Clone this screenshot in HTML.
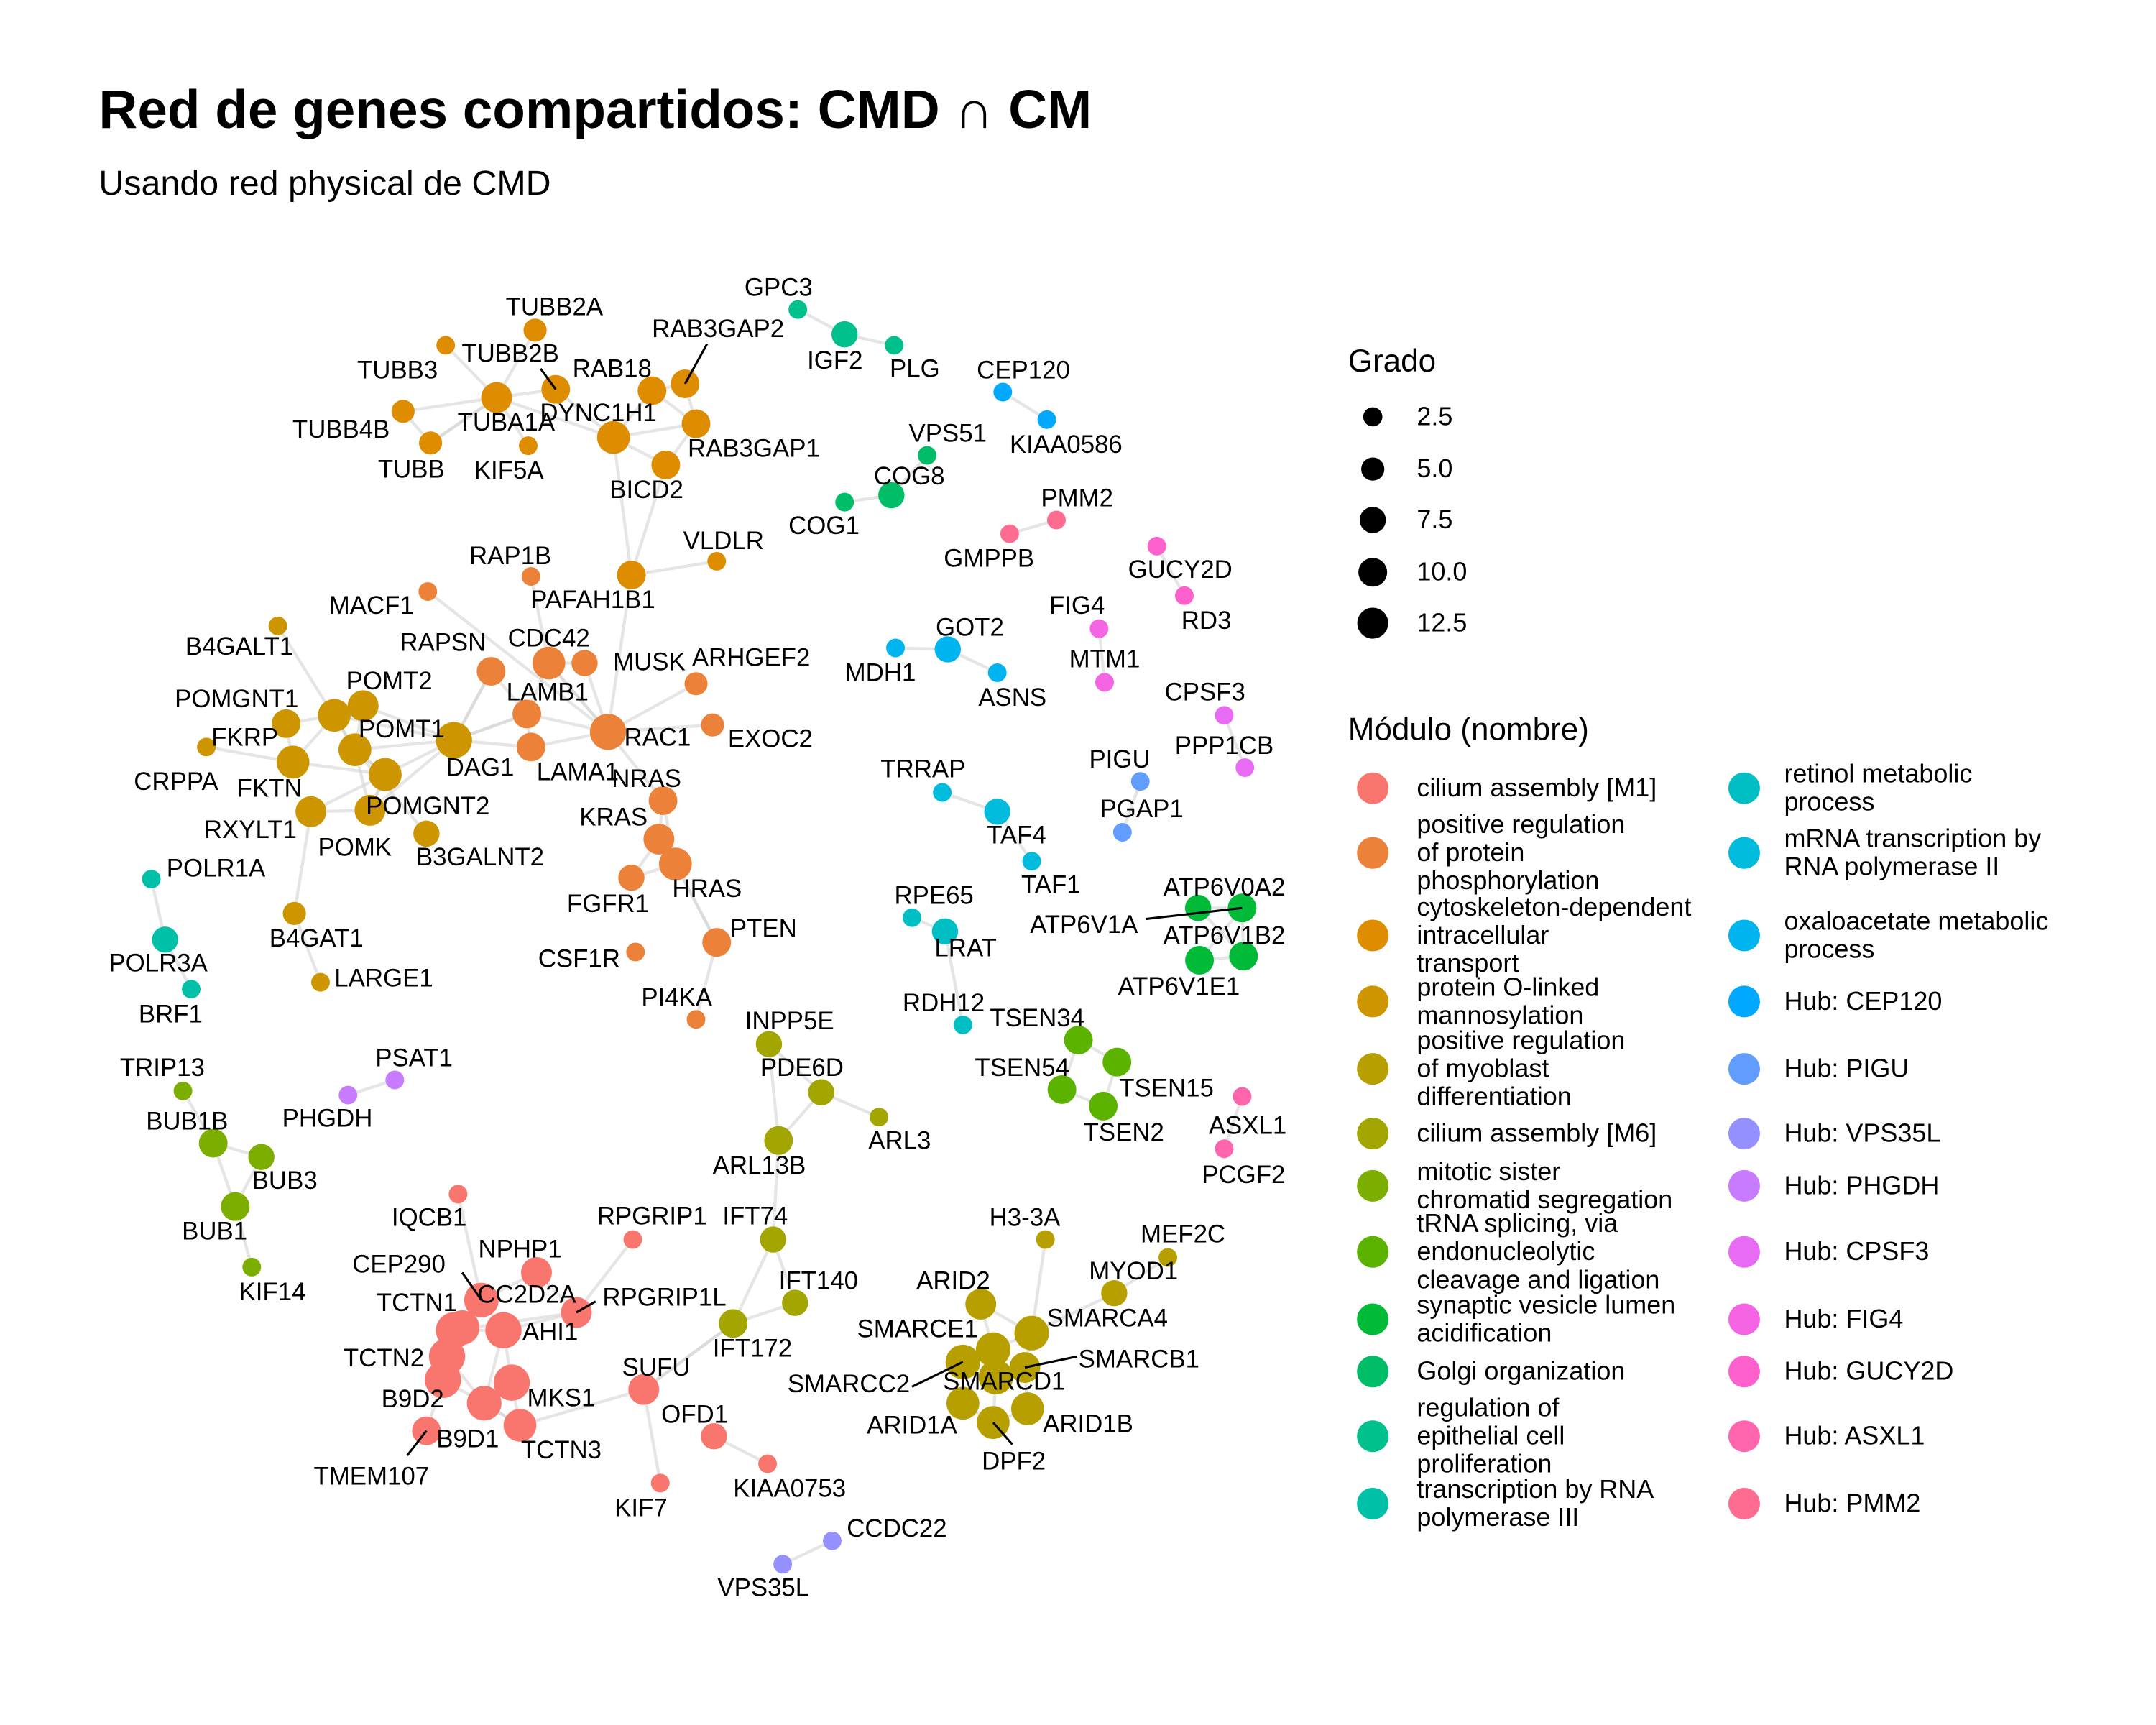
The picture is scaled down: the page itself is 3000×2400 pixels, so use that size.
<!DOCTYPE html>
<html><head><meta charset="utf-8"><style>
html,body{margin:0;padding:0;background:#fff}
svg{display:block;font-family:"Liberation Sans",Arial,sans-serif}
</style></head><body>
<svg id="chart" width="3000" height="2400" viewBox="0 0 1550 1240" xmlns="http://www.w3.org/2000/svg">
<rect width="1550" height="1240" fill="#fff"/>
<text x="71" y="92" font-size="38.6" font-weight="bold" fill="#000">Red de genes compartidos: CMD ∩ CM</text>
<text x="71" y="140" font-size="25" fill="#000">Usando red physical de CMD</text>
<g id="edges"></g>
<g id="nodes"></g>
<g id="labels"></g>
<g id="legend" transform="scale(0.9889)"></g>
</svg>
<script>
const NS="http://www.w3.org/2000/svg";
const moduleNames=["cilium assembly [M1]","positive regulation|of protein|phosphorylation","cytoskeleton-dependent|intracellular|transport","protein O-linked|mannosylation","positive regulation|of myoblast|differentiation","cilium assembly [M6]","mitotic sister|chromatid segregation","tRNA splicing, via|endonucleolytic|cleavage and ligation","synaptic vesicle lumen|acidification","Golgi organization","regulation of|epithelial cell|proliferation","transcription by RNA|polymerase III","retinol metabolic|process","mRNA transcription by|RNA polymerase II","oxaloacetate metabolic|process","Hub: CEP120","Hub: PIGU","Hub: VPS35L","Hub: PHGDH","Hub: CPSF3","Hub: FIG4","Hub: GUCY2D","Hub: ASXL1","Hub: PMM2"];
const moduleColors=["#F8766D","#EC8239","#DE8C00","#CD9600","#B79F00","#A3A500","#7CAE00","#5BB300","#00BA38","#00BE67","#00C08B","#00C1A7","#00BFC4","#00BBDB","#00B4EF","#00A9FF","#619CFF","#9590FF","#C77CFF","#E76BF3","#F564E3","#FF61CC","#FF65AC","#FF6C91"];
const sizeLegend=[2.5,5.0,7.5,10.0,12.5];
const nodeNames=["TUBB2A","TUBB3","TUBB2B","TUBA1A","TUBB4B","TUBB","KIF5A","RAB18","RAB3GAP2","DYNC1H1","RAB3GAP1","BICD2","VLDLR","PAFAH1B1",
"RAP1B","MACF1","CDC42","MUSK","RAPSN","LAMB1","RAC1","ARHGEF2","EXOC2","LAMA1","NRAS","KRAS","HRAS","FGFR1","CSF1R","PTEN","PI4KA",
"B4GALT1","POMGNT1","POMT2","POMT2b","FKRP","CRPPA","POMT1","DAG1","FKTN","RXYLT1","POMK","POMGNT2","B3GALNT2","B4GAT1","LARGE1",
"POLR1A","POLR3A","BRF1","TRIP13","BUB1B","BUB3","BUB1","KIF14","PSAT1","PHGDH",
"IQCB1","NPHP1","RPGRIP1","CC2D2A","CEP290","TCTN1","RPGRIP1L","AHI1","TCTN2","B9D2","MKS1","B9D1","SUFU","TCTN3","TMEM107","OFD1","KIAA0753","KIF7","CCDC22","VPS35L",
"INPP5E","PDE6D","ARL3","ARL13B","IFT74","IFT140","IFT172",
"H3-3A","MEF2C","MYOD1","ARID2","SMARCA4","SMARCE1","SMARCC2","SMARCD1","SMARCB1","ARID1A","ARID1B","DPF2",
"GPC3","IGF2","PLG","VPS51","COG8","COG1","CEP120","KIAA0586","PMM2","GMPPB","GUCY2D","RD3","FIG4","MTM1","GOT2","MDH1","ASNS","CPSF3","PPP1CB","PIGU","PGAP1","TRRAP","TAF4","TAF1","RPE65","LRAT","RDH12",
"ATP6V0A2","ATP6V1A","ATP6V1B2","ATP6V1E1","TSEN34","TSEN54","TSEN15","TSEN2","ASXL1","PCGF2"];
const nodeX=[389,324,404,361,293,313,384,474,498,446,506,484,521,459, 386,311,399,425,357,383,442,506,518,386,482,479,491,459,462,521,506, 202,208,243,264,213,150,258,330,280,226,269,280,310,214,233, 110,120,139,133,155,190,171,183,287,253, 333,390,460,350,336,330,419,366,325,322,372,352,468,378,310,519,558,480,605,569, 559,597,639,566,562,578,533, 760,849,810,713,750,722,700,724,745,700,747,722, 580,614,650,674,648,614,729,761,768,734,841,861,799,803,689,651,725,890,905,829,816,685,725,750,663,687,700, 871,903,904,872,784,772,812,802,903,890];
const nodeY=[240,251,283,289,299,322,324,284,279,318,308,338,408,418, 419,430,482,482,488,519,532,497,527,543,582,610,628,638,692,685,741, 455,526,520,513,554,543,545,538,563,590,589,563,606,664,714, 639,683,719,793,831,841,877,921,785,796, 868,925,901,945,965,967,954,967,986,1003,1005,1020,1010,1036,1040,1044,1064,1078,1120,1137, 759,794,812,829,901,947,962, 901,914,940,948,969,981,990,1001,994,1020,1024,1034, 225,243,251,331,360,365,285,305,378,388,397,433,457,496,472,471,489,520,558,568,605,576,590,626,667,677,745, 660,660,695,698,756,792,772,804,797,835];
const nodeDegree=[3,1,7,9,3,3,1,7,7,11,7,7,1,7, 1,1,11,5,7,7,15,3,3,7,7,9,11,5,1,7,1, 1,7,11,9,11,1,11,15,11,9,9,11,5,3,1, 1,5,1,1,7,5,7,1,1,1, 1,9,1,13,13,15,9,15,15,15,15,13,9,11,7,5,1,1,1,1, 5,5,1,7,5,5,7, 1,1,5,9,13,13,13,13,9,11,11,11, 1,5,1,1,5,1,1,1,1,1,1,1,1,1,5,1,1,1,1,1,1,1,5,1,1,5,1, 5,7,7,7,7,7,7,7,1,1];
const nodeModule=[2,2,2,2,2,2,2,2,2,2,2,2,2,2, 1,1,1,1,1,1,1,1,1,1,1,1,1,1,1,1,1, 3,3,3,3,3,3,3,3,3,3,3,3,3,3,3, 11,11,11,6,6,6,6,6,18,18, 0,0,0,0,0,0,0,0,0,0,0,0,0,0,0,0,0,0,17,17, 5,5,5,5,5,5,5, 4,4,4,4,4,4,4,4,4,4,4,4, 10,10,10,9,9,9,15,15,23,23,21,21,20,20,14,14,14,19,19,16,16,13,13,13,12,12,12, 8,8,8,8,7,7,7,7,22,22];
const labelText=["TUBB2A","TUBB3","TUBB2B","TUBA1A","TUBB4B","TUBB","KIF5A","RAB18","RAB3GAP2","DYNC1H1","RAB3GAP1","BICD2","VLDLR","PAFAH1B1",
"RAP1B","MACF1","CDC42","MUSK","RAPSN","LAMB1","RAC1","ARHGEF2","EXOC2","LAMA1","NRAS","KRAS","HRAS","FGFR1","CSF1R","PTEN","PI4KA",
"B4GALT1","POMGNT1","POMT2","","FKRP","CRPPA","POMT1","DAG1","FKTN","RXYLT1","POMK","POMGNT2","B3GALNT2","B4GAT1","LARGE1",
"POLR1A","POLR3A","BRF1","TRIP13","BUB1B","BUB3","BUB1","KIF14","PSAT1","PHGDH",
"IQCB1","NPHP1","RPGRIP1","CC2D2A","CEP290","TCTN1","RPGRIP1L","AHI1","TCTN2","B9D2","MKS1","B9D1","SUFU","TCTN3","TMEM107","OFD1","KIAA0753","KIF7","CCDC22","VPS35L",
"INPP5E","PDE6D","ARL3","ARL13B","IFT74","IFT140","IFT172",
"H3-3A","MEF2C","MYOD1","ARID2","SMARCA4","SMARCE1","SMARCC2","SMARCD1","SMARCB1","ARID1A","ARID1B","DPF2",
"GPC3","IGF2","PLG","VPS51","COG8","COG1","CEP120","KIAA0586","PMM2","GMPPB","GUCY2D","RD3","FIG4","MTM1","GOT2","MDH1","ASNS","CPSF3","PPP1CB","PIGU","PGAP1","TRRAP","TAF4","TAF1","RPE65","LRAT","RDH12",
"ATP6V0A2","ATP6V1A","ATP6V1B2","ATP6V1E1","TSEN34","TSEN54","TSEN15","TSEN2","ASXL1","PCGF2"];
const labelX=[403,289,371,368,248,299,370,445,522,435,548,470,526,431, 371,270,399,472,322,398,478,546,560,420,470,446,514,442,421,555,492, 174,172,283,0,178,128,292,349,196,182,258,311,349,230,279, 157,115,124,118,136,207,156,198,301,238, 312,378,474,383,290,303,483,400,279,300,408,340,477,408,270,505,574,466,652,555, 574,583,654,552,549,595,547, 745,860,824,693,805,667,617,730,828,663,791,737, 566,607,665,689,661,599,744,775,783,719,858,877,783,803,705,640,736,876,890,814,830,671,739,764,679,702,686, 890,788,890,857,754,743,848,817,907,904];
const labelY=[223,269,257,307,312,341,342,268,239,300,326,356,393,436, 404,440,464,481,467,503,536,478,537,561,566,594,646,657,697,675,725, 470,508,495,0,536,568,530,558,573,603,616,586,623,682,711, 631,700,737,776,815,858,895,939,769,813, 885,908,884,941,919,947,943,968,987,1017,1016,1046,994,1054,1073,1028,1082,1096,1111,1154, 742,776,829,847,884,931,980, 885,897,924,931,958,966,1006,1004,988,1036,1035,1062, 209,262,268,315,346,382,269,323,362,406,414,451,440,479,456,489,507,503,542,552,588,559,607,643,651,689,729, 645,672,680,717,740,776,791,823,818,854];
const labelSegments=[["TUBB2B",393,268],["RAB3GAP2",514,250],["CC2D2A",336,925],["RPGRIP1L",433,946],["TMEM107",296,1058],["SMARCC2",663,1008],["SMARCB1",783,986],["DPF2",736,1050],["ATP6V1A",833,668]];
const edgeFrom=["TUBB2A","TUBB3","TUBB2B","TUBA1A","TUBB4B","TUBA1A","TUBB","TUBA1A","KIF5A","DYNC1H1","RAB18","RAB18","RAB3GAP2","RAB3GAP1","DYNC1H1","DYNC1H1","BICD2","PAFAH1B1","PAFAH1B1","PAFAH1B1","DYNC1H1",
"RAP1B","CDC42","CDC42","RAPSN","LAMB1","RAC1","RAC1","RAC1","RAC1","LAMA1","LAMB1","MACF1","DAG1","DAG1","DAG1","NRAS","KRAS","KRAS","HRAS","HRAS","HRAS","FGFR1","PTEN","RAC1","RAPSN","MUSK",
"B4GALT1","POMGNT1","POMGNT1","POMT2","POMT2","POMT2b","FKRP","CRPPA","POMT1","POMT1","FKTN","FKTN","RXYLT1","RXYLT1","POMK","POMK","POMGNT2","B3GALNT2","B4GAT1","FKRP","POMT1","DAG1","DAG1",
"POLR1A","POLR3A","TRIP13","BUB1B","BUB1B","BUB3","BUB1","PSAT1",
"IQCB1","NPHP1","NPHP1","RPGRIP1","CC2D2A","CC2D2A","TCTN1","TCTN1","AHI1","AHI1","TCTN2","TCTN2","B9D2","MKS1","B9D1","TCTN3","TMEM107","SUFU","SUFU","OFD1","SUFU","RPGRIP1L","RPGRIP1L","CCDC22",
"INPP5E","PDE6D","PDE6D","ARL13B","IFT74","IFT74","IFT172","IFT172","INPP5E","PTEN",
"H3-3A","MEF2C","MYOD1","ARID2","ARID2","SMARCA4","SMARCA4","SMARCE1","SMARCE1","SMARCC2","SMARCC2","SMARCD1","SMARCD1","SMARCB1","ARID1A","ARID1B",
"GPC3","IGF2","VPS51","COG8","CEP120","PMM2","GUCY2D","FIG4","GOT2","GOT2","CPSF3","PIGU","TRRAP","TAF4","RPE65","LRAT","ATP6V0A2","ATP6V0A2","ATP6V1B2","ATP6V1E1","ATP6V1A","TSEN34","TSEN34","TSEN54","TSEN15","ASXL1"];
const edgeTo=["TUBA1A","TUBA1A","TUBA1A","TUBB4B","TUBB","TUBB","TUBA1A","DYNC1H1","TUBA1A","RAB18","RAB3GAP2","RAB3GAP1","RAB3GAP1","BICD2","BICD2","TUBB2B","PAFAH1B1","VLDLR","DYNC1H1","RAC1","RAB3GAP1",
"CDC42","RAC1","LAMB1","LAMB1","RAC1","MUSK","ARHGEF2","EXOC2","LAMA1","LAMB1","DAG1","RAC1","LAMB1","LAMA1","RAPSN","RAC1","NRAS","HRAS","FGFR1","PTEN","NRAS","KRAS","PI4KA","CDC42","DAG1","CDC42",
"POMT1","POMT2","FKRP","POMT1","DAG1","POMT1","FKTN","FKRP","DAG1","FKTN","RXYLT1","POMK","POMK","B4GAT1","POMGNT2","DAG1","POMT1","POMT1","LARGE1","POMT2","POMK","FKTN","POMT2b",
"POLR3A","BRF1","BUB1B","BUB3","BUB1","BUB1","KIF14","PHGDH",
"CC2D2A","CC2D2A","RPGRIP1L","RPGRIP1L","TCTN1","AHI1","AHI1","TCTN2","MKS1","B9D1","B9D2","B9D1","B9D1","TCTN3","TCTN3","B9D1","B9D2","TCTN3","KIF7","KIAA0753","IFT172","AHI1","TCTN1","VPS35L",
"PDE6D","ARL13B","ARL3","IFT74","IFT172","IFT140","IFT140","SUFU","ARL13B","HRAS",
"SMARCA4","MYOD1","SMARCA4","SMARCE1","SMARCA4","SMARCE1","SMARCB1","SMARCC2","SMARCD1","SMARCD1","ARID1A","SMARCB1","DPF2","ARID1B","DPF2","DPF2",
"IGF2","PLG","COG8","COG1","KIAA0586","GMPPB","RD3","MTM1","MDH1","ASNS","PPP1CB","PGAP1","TAF4","TAF1","LRAT","RDH12","ATP6V1A","ATP6V1B2","ATP6V1E1","ATP6V1A","ATP6V1B2","TSEN54","TSEN15","TSEN2","TSEN2","PCGF2"];

const idx={};nodeNames.forEach((n,i)=>idx[n]=i);
const SC=1/1.0112;
function rScale(d){return 4.5+2.2*Math.sqrt(d);}
function xPos(v){return v*SC;}
function yPos(v){return v*SC;}
const gE=document.getElementById('edges'),gN=document.getElementById('nodes'),gL=document.getElementById('labels'),gLeg=document.getElementById('legend');
function mk(tag,attrs,parent){const e=document.createElementNS(NS,tag);for(const k in attrs)e.setAttribute(k,attrs[k]);parent.appendChild(e);return e;}
edgeFrom.forEach((f,k)=>{
  const a=idx[f],b=idx[edgeTo[k]];if(a===undefined||b===undefined)return;
  const l=mk('line',{x1:xPos(nodeX[a]),y1:yPos(nodeY[a]),x2:xPos(nodeX[b]),y2:yPos(nodeY[b]),stroke:'#d4d4d4','stroke-opacity':0.6,'stroke-width':2.2},gE);
  
  
});
nodeNames.forEach((n,i)=>{
  const c=mk('circle',{cx:xPos(nodeX[i]),cy:yPos(nodeY[i]),r:rScale(nodeDegree[i]),fill:moduleColors[nodeModule[i]]},gN);
  
  
});
labelSegments.forEach(s=>{
  const i=idx[s[0]];
  const l=mk('line',{x1:xPos(s[1]),y1:yPos(s[2]),x2:xPos(nodeX[i]),y2:yPos(nodeY[i]),stroke:'#000','stroke-width':1.6},gL);
  
  
});
nodeNames.forEach((n,i)=>{
  if(!labelText[i])return;
  const t=mk('text',{x:xPos(labelX[i]),y:yPos(labelY[i])+6,'font-size':18,'text-anchor':'middle',fill:'#000'},gL);
  t.textContent=labelText[i];
  
  
});
let t=mk('text',{x:980,y:270,'font-size':23,fill:'#000'},gLeg);t.textContent='Grado';


const sizeY=[303,341,378,416,453];
sizeLegend.forEach((v,k)=>{
  const c=mk('circle',{cx:998,cy:sizeY[k],r:rScale(v)-1,fill:'#000'},gLeg);
  
  
  const tt=mk('text',{x:1030,y:sizeY[k]+6,'font-size':18.8,fill:'#000'},gLeg);tt.textContent=v.toFixed(1);
  
  
});
t=mk('text',{x:980,y:538,'font-size':23,fill:'#000'},gLeg);t.textContent='Módulo (nombre)';


const rowY=[573,620,680,728,777,824,862,910,959,997,1044,1093];
moduleNames.forEach((m,k)=>{
  const col=k<12?0:1,row=k%12;
  const cx=col?1268:998,tx=col?1297:1030,cy=rowY[row];
  const g=mk('g',{},gLeg);
  
  
  mk('circle',{cx:cx,cy:cy,r:11.5,fill:moduleColors[k]},g);
  const lines=m.split('|');const n=lines.length;
  lines.forEach((s,j)=>{
    const tt=mk('text',{x:tx,y:cy+6+(j-(n-1)/2)*20.4,'font-size':18.8,fill:'#000'},g);tt.textContent=s;
  });
});
</script>
</body></html>
